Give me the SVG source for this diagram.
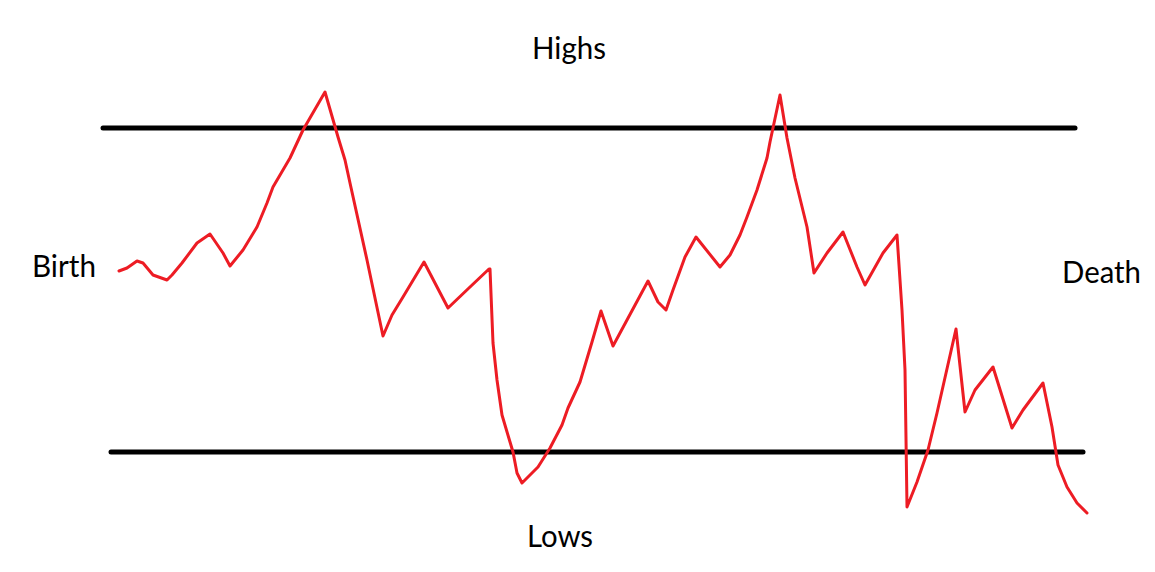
<svg xmlns="http://www.w3.org/2000/svg" width="1155" height="572" viewBox="0 0 1155 572">
<style>
.lbl{font-family:Lato,"Open Sans","Liberation Sans",sans-serif;font-size:30px;fill:#000}
.bound{stroke:#000;stroke-width:5;stroke-linecap:round;fill:none}
.price{stroke:#ed1c24;stroke-width:3;fill:none;stroke-linejoin:round;stroke-linecap:round}
</style>
<rect width="1155" height="572" fill="#fff"/>
<g id="connectors">
<line id="high-line" class="bound" x1="103" y1="128" x2="1075" y2="128"/>
<line id="low-line" class="bound" x1="111" y1="452" x2="1083" y2="452"/>
<polyline id="price" class="price" points="119,271 127,268 137,261 143,263 153,275 167,280 172,275 182,263 197,243 210,234 223,253 230,266 243,250 257,227 267,203 273,187 290,158 303,130 325,92 338,137 345,160 350,183 367,260 383,336 392,315 403,297 424,262 448,308 470,287 489,269 490,269 493,343 497,380 502,415 513,452 517,473 522,483 538,467 550,448 562,425 568,408 580,382 592,342 601,311 613,346 627,320 648,281 658,302 666,310 673,290 685,257 696,237 720,267 730,255 740,235 747,217 757,190 767,158 770,142 780,95 787,138 795,178 807,227 809,240 814,273 827,253 843,232 857,267 865,285 883,253 897,235 902,310 905,370 907,507 917,482 928,450 937,413 956,329 965,412 975,390 993,367 1012,428 1023,410 1043,383 1052,427 1058,465 1067,487 1077,503 1087,513"/>
</g>
<g id="highs"><text class="lbl" x="532" y="59" textLength="74" lengthAdjust="spacingAndGlyphs">Highs</text></g>
<g id="birth"><text class="lbl" x="32" y="277" textLength="64" lengthAdjust="spacingAndGlyphs">Birth</text></g>
<g id="death"><text class="lbl" x="1062" y="283" textLength="79" lengthAdjust="spacingAndGlyphs">Death</text></g>
<g id="lows"><text class="lbl" x="527" y="547" textLength="66" lengthAdjust="spacingAndGlyphs">Lows</text></g>
</svg>
